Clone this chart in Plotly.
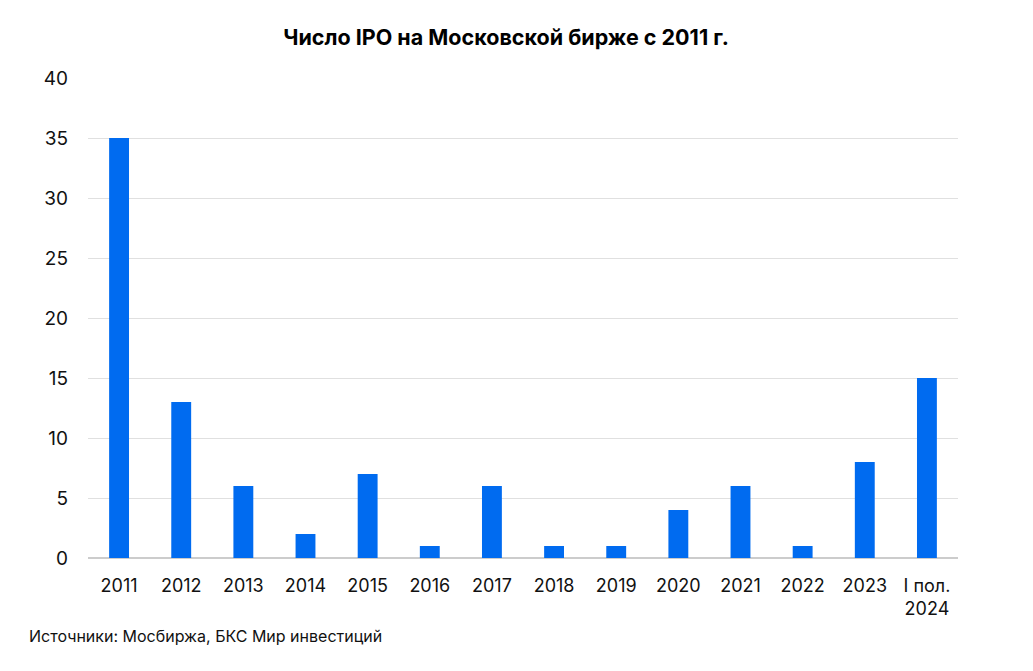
import plotly.graph_objects as go

categories = ["2011", "2012", "2013", "2014", "2015", "2016", "2017", "2018", "2019",
              "2020", "2021", "2022", "2023", "I пол.<br>2024"]
ipo_counts = [35, 13, 6, 2, 7, 1, 6, 1, 1, 4, 6, 1, 8, 15]
y_ticks = [0, 5, 10, 15, 20, 25, 30, 35, 40]

title_text = "<b>Число IPO на Московской бирже с 2011 г.</b>"
source_text = "Источники: Мосбиржа, БКС Мир инвестиций"

FONT = "Inter, Liberation Sans, Arial, sans-serif"

fig = go.Figure(go.Bar(
    x=categories, y=ipo_counts,
    marker=dict(color="#006BF0", line=dict(width=0)),
    hoverinfo="x+y",
))

fig.update_layout(
    width=1033, height=671,
    margin=dict(l=80, r=83, t=70, b=121),
    paper_bgcolor="white", plot_bgcolor="white",
    bargap=0.68,
    showlegend=False,
    font=dict(family=FONT, size=18, color="#111111"),
    title=dict(text=title_text, x=498 / 1033, xanchor="center", y=1 - 29 / 671, yanchor="middle",
               font=dict(family=FONT, size=21.5, color="#000000")),
    xaxis=dict(showgrid=False, showline=False, ticks="", tickfont=dict(size=18),
               ticklabelstandoff=15),
    yaxis=dict(range=[0, 40], tickvals=y_ticks, showgrid=True, gridcolor="#e0e0e0",
               gridwidth=1, zeroline=True, zerolinecolor="#cccccc", zerolinewidth=2,
               showline=False, ticks="", tickfont=dict(size=19), ticklabelstandoff=19),
    annotations=[dict(text=source_text, xref="paper", yref="paper", x=(19 - 80) / 870,
                      y=(550 - 628) / 480, xanchor="left", yanchor="middle", showarrow=False,
                      font=dict(family=FONT, size=16, color="#111111"))],
)

fig.write_html("out.html")
